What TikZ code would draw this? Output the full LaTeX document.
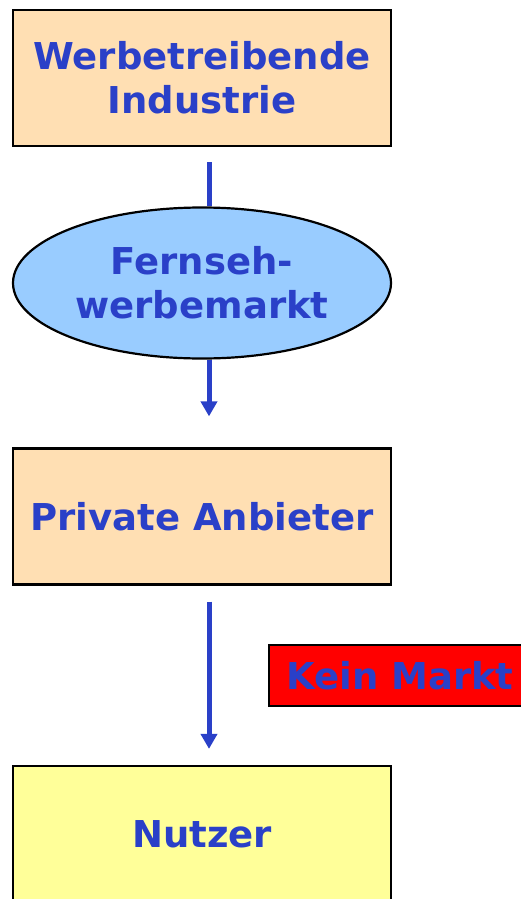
\documentclass[tikz,border=0pt]{standalone}
\usepackage{fontspec}
\setmainfont{DejaVu Sans}
\usetikzlibrary{arrows.meta,shapes.geometric}
\definecolor{txtblue}{HTML}{2A40C8}
\definecolor{peach}{HTML}{FFDFB3}
\definecolor{skyblue}{HTML}{99CCFF}
\definecolor{paleyellow}{HTML}{FFFF99}
\tikzset{
  box/.style={draw=black, line width=2.2pt, minimum width=378pt, minimum height=136pt, inner sep=0pt,
    align=center, text=txtblue, font=\fontsize{37}{44}\selectfont\bfseries},
  conn/.style={draw=txtblue, line width=5pt},
  arr/.style={conn, -{Triangle[width=16pt,length=15pt]}}
}
\begin{document}
\begin{tikzpicture}[x=1pt,y=-1pt]
\useasboundingbox (0,0) rectangle (521,899);
\node[box, fill=peach] (b1) at (202,78) {Werbetreibende\\Industrie};
\node[box, fill=skyblue, shape=ellipse, minimum height=151pt] (e) at (202,283) {Fernseh-\\werbemarkt};
\node[box, fill=peach] (b3) at (202,516.5) {Private Anbieter};
\node[box, fill=paleyellow] (b4) at (202,834) {Nutzer};
\node[box, fill=red, minimum width=262pt, minimum height=61pt] (km) at (400,675.5) {Kein Markt};
\draw[conn, shorten <=15pt] ([xshift=7pt]b1.south) -- ([xshift=7pt]e.north);
\draw[arr, shorten >=31pt] ([xshift=7pt]e.south) -- ([xshift=7pt]b3.north);
\draw[arr, shorten <=16pt, shorten >=16pt] ([xshift=7pt]b3.south) -- ([xshift=7pt]b4.north);
\end{tikzpicture}
\end{document}
